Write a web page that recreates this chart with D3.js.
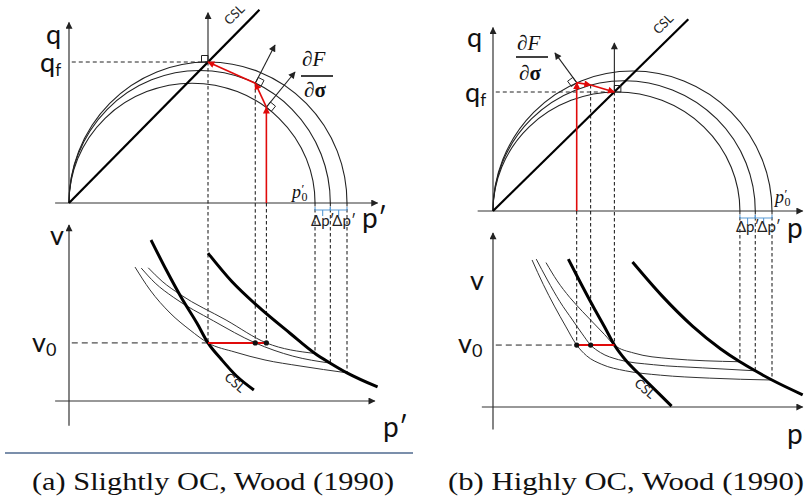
<!DOCTYPE html>
<html>
<head>
<meta charset="utf-8">
<script src="https://cdn.jsdelivr.net/npm/d3@7/dist/d3.min.js"></script>
<style>
html,body{margin:0;padding:0;background:#fff;}
svg{display:block;}
</style>
</head>
<body>
<svg id="chart" width="805" height="503"></svg>
<script>
// ===== DATA (schematic units: p' and q in % of outer p'0 / peak q ; v arbitrary) =====
const yieldP0A = [177, 188, 200];
const yieldQA  = [85, 94, 100];
const yieldP0B = [177, 188, 200];
const yieldQB  = [85, 93, 100];

const cslUpperA = [[0, 0], [137, 137]];
const cslUpperB = [[0, 0], [140, 137]];

const qfA = 100, qfB = 85;
const v0A = 33,  v0B = 35.6;

const stressPathA = [[142, 0], [142, 68], [134, 85], [100, 100]];
const stressPathB = [[60, 0], [60, 91.7], [70, 90], [87, 85]];

const normalsA = [[142, 68, 162.6, 92.9], [134, 85, 148.2, 112], [100, 100, 100, 135]];
const normalsB = [[60, 91.7, 44.4, 112.9], [87, 85, 87, 120]];
const squareSideA = [1, 1, -1];
const squareSideB = [-1, 1];

const cslLowerA = [[59,91.5],[70,74.4],[81,58.5],[92,44.3],[100,33],[110,23.3],[120.5,14.2],[133,6.3]];
const nclA = [[100,84],[117,68],[137,53],[159,38.5],[177,27],[188,21.5],[200,16],[222,8]];
const swellOuterA = [[47.5,76.1],[58.3,63.1],[72.7,50],[87.1,40.3],[100,33],[119.4,27.8],[141,23.3],[166.2,19.9],[200,16]];
const swellMidA   = [[52,75.5],[62,67],[75,59],[104,45.5],[134,33],[161,25.5],[188,21.5]];
const swellInnerA = [[57,75.7],[67,68],[80,60.5],[113,46],[142,33],[177,27]];

const cslLowerB = [[54,85],[63,71],[72,57.5],[80,46],[87,35.6],[95,27],[104,19.5],[116,10],[128,0.5]];
const nclB = [[100,83.3],[121,64],[143,46.5],[163,33.5],[177,26],[188,20.8],[200,15.5],[222,7]];
const swellOuterB = [[28,84.5],[36,70.5],[44,58],[52,46.5],[60,35.6],[67,29.5],[78,24.5],[95,20.8],[120,18.3],[155,16.6],[200,15.5]];
const swellMidB   = [[31,85],[39,73],[48,60.5],[57,50],[64,42],[70,35.6],[77,31.3],[90,27.2],[115,24.3],[150,22.5],[188,20.8]];
const swellInnerB = [[38,83],[46,72.5],[55,63],[64,55],[72,48.3],[80,41.6],[87,35.6],[101,31],[127,27.8],[177,26]];

const redDotsA = [134, 142];
const redDotsB = [60, 70];

const axisLabels = { q: "q", qf: ["q", "f"], v: "v", v0: ["v", "0"], p: "p\u2032", dp: "\u0394p\u2032" };
const captions = ["(a) Slightly OC, Wood (1990)", "(b) Highly OC, Wood (1990)"];

// ===== DRAWING =====
const svg = d3.select("#chart");
const defs = svg.append("defs");
function marker(id, color, w, h) {
  defs.append("marker").attr("id", id)
    .attr("viewBox", "0 0 10 10").attr("refX", 9).attr("refY", 5)
    .attr("markerWidth", w).attr("markerHeight", h)
    .attr("markerUnits", "userSpaceOnUse").attr("orient", "auto")
    .append("path").attr("d", "M0,0 L10,5 L0,10 Z").attr("fill", color);
}
marker("ahK", "#222", 8, 7);
marker("ahR", "#e00a0a", 8, 7);

const SANS = "Lato, 'Open Sans', 'Liberation Sans', sans-serif";
const SERIF = "'Liberation Serif', 'DejaVu Serif', serif";
const RED = "#e00a0a";

const layouts = [
  { // panel a
    xr: [69, 347], qr: [203, 62], vr: [401, 225],
    qTop: 128, pAxU: [-10, 222], vAx: [-14, 100], pAxL: [-10, 220],
    p0: yieldP0A, qp: yieldQA, cslU: cslUpperA, qf: qfA, v0: v0A,
    path: stressPathA, normals: normalsA, sq: squareSideA,
    cslL: cslLowerA, ncl: nclA, swell: [swellOuterA, swellMidA, swellInnerA], dots: redDotsA,
    lab: { q: [-23, 21], qf: [-29, 10], v: [-19, 20], v0: [-37, 9], pU: [293, 25], pL: [314, 36],
           csl: [-22, 8], cslL: [232, 386], frac: [302, 66, 76, 97], p0: [223, -5], dpY: 23 }
  },
  { // panel b
    xr: [493, 772], qr: [211, 71], vr: [407, 233],
    qTop: 131, pAxU: [-11, 222], vAx: [-13, 100], pAxL: [-8, 222],
    p0: yieldP0B, qp: yieldQB, cslU: cslUpperB, qf: qfB, v0: v0B,
    path: stressPathB, normals: normalsB, sq: squareSideB,
    cslL: cslLowerB, ncl: nclB, swell: [swellOuterB, swellMidB, swellInnerB], dots: redDotsB,
    lab: { q: [-26, 19], qf: [-28, 10], v: [-23, 57], v0: [-35, 8], pU: [294, 27], pL: [294, 37],
           csl: [-22, 8], cslL: [642, 392], frac: [517, 50, 57, 80], p0: [282, -8], dpY: 21 }
  }
];

layouts.forEach((L, i) => {
  const g = svg.append("g");
  const x = d3.scaleLinear().domain([0, 200]).range(L.xr);
  const q = d3.scaleLinear().domain([0, 100]).range(L.qr);
  const v = d3.scaleLinear().domain([0, 100]).range(L.vr);

  const axisStyle = s => s.attr("stroke", "#333").attr("stroke-width", 1.2).attr("fill", "none");
  // ---- upper axes ----
  g.append("line").attr("x1", x(0)).attr("y1", q(0)).attr("x2", x(0)).attr("y2", q(L.qTop))
    .call(axisStyle).attr("marker-end", "url(#ahK)");
  g.append("line").attr("x1", x(L.pAxU[0])).attr("y1", q(0)).attr("x2", x(L.pAxU[1])).attr("y2", q(0))
    .call(axisStyle).attr("marker-end", "url(#ahK)");
  // ---- lower axes ----
  g.append("line").attr("x1", x(0)).attr("y1", v(L.vAx[0])).attr("x2", x(0)).attr("y2", v(L.vAx[1]))
    .call(axisStyle).attr("marker-end", "url(#ahK)");
  g.append("line").attr("x1", x(L.pAxL[0])).attr("y1", v(0)).attr("x2", x(L.pAxL[1])).attr("y2", v(0))
    .call(axisStyle).attr("marker-end", "url(#ahK)");

  // ---- dashed projection lines ----
  const dash = s => s.attr("stroke", "#111").attr("stroke-width", 1).attr("stroke-dasharray", "3.5,2.5").attr("fill", "none");
  [0, 2, 3].forEach(k => {
    const pt = L.path[k];
    g.append("line").attr("x1", x(pt[0])).attr("y1", q(pt[1])).attr("x2", x(pt[0])).attr("y2", v(L.v0)).call(dash);
  });
  L.swell.forEach(s => {
    const end = s[s.length - 1];
    g.append("line").attr("x1", x(end[0])).attr("y1", q(0)).attr("x2", x(end[0])).attr("y2", v(end[1])).call(dash);
  });
  const qfPt = L.path[3];
  g.append("line").attr("x1", x(2)).attr("y1", q(L.qf)).attr("x2", x(qfPt[0])).attr("y2", q(L.qf))
    .attr("stroke", "#222").attr("stroke-width", 1).attr("stroke-dasharray", "4,3");
  const v0End = d3.min(L.path, d => d[0]);
  g.append("line").attr("x1", x(2)).attr("y1", v(L.v0)).attr("x2", x(v0End)).attr("y2", v(L.v0))
    .attr("stroke", "#222").attr("stroke-width", 1).attr("stroke-dasharray", "6,4");

  // ---- yield surfaces (ellipses through origin) ----
  L.p0.forEach((p0, j) => {
    const rx = (x(p0) - x(0)) / 2, ry = q(0) - q(L.qp[j]);
    g.append("path")
      .attr("d", `M${x(0)},${q(0)} A${rx},${ry} 0 0 1 ${x(p0)},${q(0)}`)
      .attr("fill", "none").attr("stroke", "#222").attr("stroke-width", 1.1);
  });

  // ---- CSL upper ----
  g.append("line").attr("x1", x(L.cslU[0][0])).attr("y1", q(L.cslU[0][1]))
    .attr("x2", x(L.cslU[1][0])).attr("y2", q(L.cslU[1][1]))
    .attr("stroke", "#000").attr("stroke-width", 2.2);
  const ce = [x(L.cslU[1][0]), q(L.cslU[1][1])];
  g.append("text").attr("transform", `translate(${ce[0] + L.lab.csl[0]},${ce[1] + L.lab.csl[1]}) rotate(-45)`)
    .attr("text-anchor", "middle").attr("font-family", SANS).attr("font-size", 13).attr("fill", "#222").text("CSL");

  // ---- normals with right-angle squares ----
  L.normals.forEach((n, j) => {
    const x1 = x(n[0]), y1 = q(n[1]), x2 = x(n[2]), y2 = q(n[3]);
    g.append("line").attr("x1", x1).attr("y1", y1).attr("x2", x2).attr("y2", y2)
      .attr("stroke", "#222").attr("stroke-width", 1.1).attr("marker-end", "url(#ahK)");
    const len = Math.hypot(x2 - x1, y2 - y1), nx = (x2 - x1) / len, ny = (y2 - y1) / len;
    const s = L.sq[j], tx = -ny * s, ty = nx * s, d = 6.5;
    const pts = [[x1, y1], [x1 + tx * d, y1 + ty * d], [x1 + tx * d + nx * d, y1 + ty * d + ny * d], [x1 + nx * d, y1 + ny * d]];
    g.append("path").attr("d", "M" + pts.map(p => p.join(",")).join("L") + "Z")
      .attr("fill", "none").attr("stroke", "#222").attr("stroke-width", 1);
  });

  // ---- stress path (red arrows) ----
  for (let k = 0; k < L.path.length - 1; k++) {
    const a = L.path[k], b = L.path[k + 1];
    g.append("line").attr("x1", x(a[0])).attr("y1", q(a[1])).attr("x2", x(b[0])).attr("y2", q(b[1]))
      .attr("stroke", RED).attr("stroke-width", 1.6).attr("marker-end", "url(#ahR)");
  }

  // ---- v-p' plane ----
  const line = d3.line().x(d => x(d[0])).y(d => v(d[1])).curve(d3.curveMonotoneX);
  L.swell.forEach(s => {
    g.append("path").attr("d", line(s)).attr("fill", "none").attr("stroke", "#333").attr("stroke-width", 1);
  });
  g.append("path").attr("d", line(L.cslL)).attr("fill", "none").attr("stroke", "#000").attr("stroke-width", 3);
  g.append("path").attr("d", line(L.ncl)).attr("fill", "none").attr("stroke", "#000").attr("stroke-width", 3);
  g.append("text").attr("transform", `translate(${L.lab.cslL[0]},${L.lab.cslL[1]}) rotate(40)`)
    .attr("text-anchor", "middle").attr("font-family", SANS).attr("font-size", 13).attr("fill", "#222").text("CSL");

  const pe = d3.extent(L.path, d => d[0]);
  g.append("line").attr("x1", x(pe[0])).attr("y1", v(L.v0)).attr("x2", x(pe[1])).attr("y2", v(L.v0))
    .attr("stroke", RED).attr("stroke-width", 2);
  g.selectAll("circle.dot").data(L.dots).enter().append("circle")
    .attr("cx", d => x(d)).attr("cy", v(L.v0)).attr("r", 2.6).attr("fill", "#111");

  // ---- delta p' braces ----
  const yb = q(0) + 7;
  for (let k = 0; k < L.p0.length - 1; k++) {
    const xa = x(L.p0[k]), xb = x(L.p0[k + 1]), xm = (xa + xb) / 2;
    g.append("path").attr("d", `M${xa},${yb - 3}L${xa},${yb}L${xb},${yb}L${xb},${yb - 3}M${xm},${yb}L${xm},${yb + 6}`)
      .attr("fill", "none").attr("stroke", "#5b9bd5").attr("stroke-width", 1.1);
    g.append("text").attr("x", k === 0 ? xa - 4 : xa + 2).attr("y", q(0) + L.lab.dpY)
      .attr("font-family", SANS).attr("font-size", 15).attr("fill", "#222").text(axisLabels.dp);
  }

  // ---- labels ----
  g.append("text").attr("x", x(0) + L.lab.q[0]).attr("y", q(L.qTop) + L.lab.q[1])
    .attr("font-family", SANS).attr("font-size", 27).attr("fill", "#111").text(axisLabels.q);
  const tqf = g.append("text").attr("x", x(0) + L.lab.qf[0]).attr("y", q(L.qf) + L.lab.qf[1])
    .attr("font-family", SANS).attr("font-size", 27).attr("fill", "#111");
  tqf.append("tspan").text(axisLabels.qf[0]);
  tqf.append("tspan").attr("font-size", 17).attr("dy", 4).text(axisLabels.qf[1]);
  g.append("text").attr("x", x(0) + L.lab.v[0]).attr("y", v(L.vAx[1]) + L.lab.v[1])
    .attr("font-family", SANS).attr("font-size", 27).attr("fill", "#111").text(axisLabels.v);
  const tv0 = g.append("text").attr("x", x(0) + L.lab.v0[0]).attr("y", v(L.v0) + L.lab.v0[1])
    .attr("font-family", SANS).attr("font-size", 27).attr("fill", "#111");
  tv0.append("tspan").text(axisLabels.v0[0]);
  tv0.append("tspan").attr("font-size", 18).attr("dy", 4).text(axisLabels.v0[1]);
  g.append("text").attr("x", x(0) + L.lab.pU[0]).attr("y", q(0) + L.lab.pU[1])
    .attr("font-family", SANS).attr("font-size", 28).attr("fill", "#111").text(axisLabels.p);
  g.append("text").attr("x", x(0) + L.lab.pL[0]).attr("y", v(0) + L.lab.pL[1])
    .attr("font-family", SANS).attr("font-size", 28).attr("fill", "#111").text(axisLabels.p);

  // p'0 label
  const p0x = x(0) + L.lab.p0[0], p0y = q(0) + L.lab.p0[1];
  g.append("text").attr("x", p0x).attr("y", p0y).attr("font-family", SERIF).attr("font-style", "italic")
    .attr("font-size", 18).attr("fill", "#111").text("p");
  g.append("text").attr("x", p0x + 9.5).attr("y", p0y - 5).attr("font-family", SERIF)
    .attr("font-size", 13).attr("fill", "#111").text("\u2032");
  g.append("text").attr("x", p0x + 9.5).attr("y", p0y + 3).attr("font-family", SERIF)
    .attr("font-size", 12).attr("fill", "#111").text("0");

  // dF/dsigma fraction
  const [fx, fy1, fbar, fy2] = L.lab.frac;
  const t1 = g.append("text").attr("x", fx).attr("y", fy1).attr("font-family", SERIF).attr("font-size", 21).attr("fill", "#111");
  t1.append("tspan").text("\u2202");
  t1.append("tspan").attr("font-style", "italic").text("F");
  g.append("line").attr("x1", fx - 1).attr("x2", fx + 31).attr("y1", fbar).attr("y2", fbar)
    .attr("stroke", "#111").attr("stroke-width", 1.6);
  const t2 = g.append("text").attr("x", fx + 2).attr("y", fy2).attr("font-family", SERIF).attr("font-size", 21).attr("fill", "#111");
  t2.append("tspan").text("\u2202");
  t2.append("tspan").attr("font-weight", "bold").text("\u03c3");
});

// ---- separator rule & captions ----
svg.append("line").attr("x1", 5).attr("x2", 413).attr("y1", 453).attr("y2", 453)
  .attr("stroke", "#4f6a8f").attr("stroke-width", 1.5);
svg.append("text").attr("x", 32).attr("y", 490).attr("font-family", SERIF).attr("font-size", 26)
  .attr("textLength", 362).attr("lengthAdjust", "spacingAndGlyphs").attr("fill", "#111").text(captions[0]);
svg.append("text").attr("x", 448).attr("y", 490).attr("font-family", SERIF).attr("font-size", 26)
  .attr("textLength", 356).attr("lengthAdjust", "spacingAndGlyphs").attr("fill", "#111").text(captions[1]);
</script>
</body>
</html>
